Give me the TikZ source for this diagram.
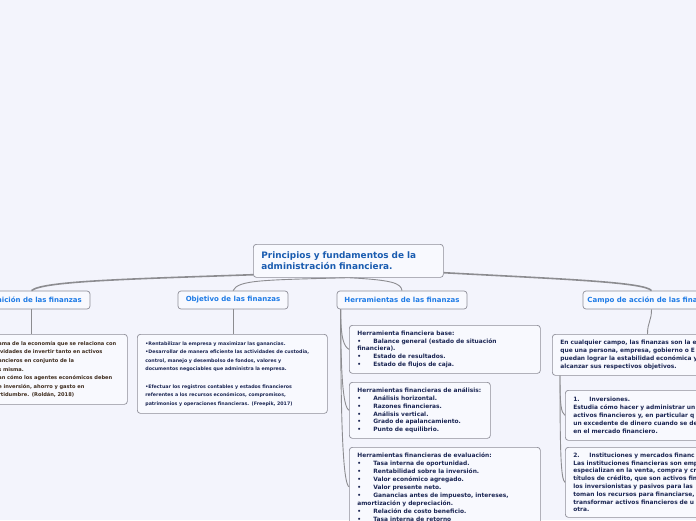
\documentclass[tikz,border=0pt]{standalone}
\usepackage{fontspec}
\setmainfont{DejaVu Sans}
\usetikzlibrary{calc}

\definecolor{canvasbg}{HTML}{F3F4FC}
\definecolor{boxfill}{HTML}{F8F9FE}
\definecolor{boxline}{HTML}{8E8E98}
\definecolor{linkgray}{HTML}{8C8C90}
\definecolor{mainblue}{HTML}{1A5CB0}
\definecolor{headblue}{HTML}{1E7BE6}
\definecolor{notenavy}{HTML}{1C2754}
\definecolor{notebrown}{HTML}{3E2C1E}

\newcommand{\blt}{\makebox[16pt][l]{•}}
\newcommand{\enumlbl}[1]{\makebox[16pt][l]{#1}}

\begin{document}
\begin{tikzpicture}[x=1pt, y=-1pt,
    topic/.style={draw=boxline, fill=boxfill, rounded corners=3pt, line width=0.7pt},
    mainbox/.style={topic, anchor=north west, minimum width=190pt, minimum height=33pt,
        inner xsep=8pt, text width=174pt, align=left, text=mainblue,
        font=\fontsize{8.9}{11}\selectfont\bfseries},
    headbox/.style={topic, minimum height=18pt, inner xsep=0pt, text=headblue,
        font=\fontsize{7}{8}\selectfont\bfseries},
    notebox/.style={topic, anchor=north west, inner xsep=8pt, inner ysep=4pt, align=left,
        text=notenavy, font=\fontsize{5.9}{7.8}\selectfont\bfseries},
    smallnote/.style={notebox, font=\fontsize{4.75}{8.6}\selectfont\bfseries},
    link/.style={draw=linkgray, line width=0.9pt},
    trunk/.style={draw=linkgray, line width=1.6pt}]

% --- 1. CANVAS ---
\useasboundingbox (0,0) rectangle (696,520);
\clip (0,0) rectangle (696,520);
\fill[canvasbg] (0,0) rectangle (696,520);

% --- 2. CENTRAL TOPIC ---
\node[mainbox] (main) at (253,244)
    {Principios y fundamentos de la\\administración financiera.};

% --- 3. MAIN BRANCHES ---
\node[headbox, minimum width=117pt] (defin) at (31.5,300) {Definición de las finanzas};
\node[headbox, minimum width=110pt] (obj) at (233,300) {Objetivo de las finanzas};
\node[headbox, minimum width=130pt] (herr) at (402,300) {Herramientas de las finanzas};
\node[headbox, minimum width=137pt] (campo) at (651.5,300) {Campo de acción de las finanzas};

% --- 4. NOTES ---
% Definicion
\node[smallnote, text=notebrown, text width=121pt, minimum height=70pt,
      font=\fontsize{5.1}{8.65}\selectfont\bfseries] (defitxt) at (-10,334)
    {ama de la economía que se relaciona con\\
     ividades de invertir tanto en activos\\
     ancieros en conjunto de la\\
     s misma.\\
     an cómo los agentes económicos deben\\
     e inversión, ahorro y gasto en\\
     rtidumbre. (Roldán, 2018)};

% Objetivo
\node[smallnote, text width=174pt, minimum height=79pt] (objtxt) at (137,334)
    {•Rentabilizar la empresa y maximizar las ganancias.\\
     •Desarrollar de manera eficiente las actividades de custodia,\\
     control, manejo y desembolso de fondos, valores y\\
     documentos negociables que administra la empresa.\\[8.6pt]
     •Efectuar los registros contables y estados financieros\\
     referentes a los recursos económicos, compromisos,\\
     patrimonios y operaciones financieras. (Freepik, 2017)};

% Herramientas
\node[notebox, text width=175pt, minimum height=48pt] (hbase) at (349,325)
    {Herramienta financiera base:\\
     \blt Balance general (estado de situación\\
     financiera).\\
     \blt Estado de resultados.\\
     \blt Estado de flujos de caja.};
\node[notebox, text width=125pt, minimum height=56pt] (hanal) at (349,382)
    {Herramientas financieras de análisis:\\
     \blt Análisis horizontal.\\
     \blt Razones financieras.\\
     \blt Análisis vertical.\\
     \blt Grado de apalancamiento.\\
     \blt Punto de equilibrio.};
\node[notebox, text width=175pt, inner ysep=5pt,
      font=\fontsize{5.9}{8}\selectfont\bfseries] (heval) at (349,447)
    {Herramientas financieras de evaluación:\\
     \blt Tasa interna de oportunidad.\\
     \blt Rentabilidad sobre la inversión.\\
     \blt Valor económico agregado.\\
     \blt Valor presente neto.\\
     \blt Ganancias antes de impuesto, intereses,\\
     amortización y depreciación.\\
     \blt Relación de costo beneficio.\\
     \blt Tasa interna de retorno};

% Campo de accion
\node[notebox, text width=170pt, minimum height=41pt] (camptxt) at (552,334)
    {En cualquier campo, las finanzas son la e\\
     que una persona, empresa, gobierno o E\\
     puedan lograr la estabilidad económica y\\
     alcanzar sus respectivos objetivos.};
\node[notebox, text width=160pt, minimum height=50pt] (inv) at (565,390)
    {\enumlbl{1.}Inversiones.\\
     Estudia cómo hacer y administrar un\\
     activos financieros y, en particular q\\
     un excedente de dinero cuando se de\\
     en el mercado financiero.};
\node[notebox, text width=160pt, minimum height=70pt] (inst) at (565,447)
    {\enumlbl{2.}Instituciones y mercados financ\\
     Las instituciones financieras son emp\\
     especializan en la venta, compra y cr\\
     títulos de crédito, que son activos fin\\
     los inversionistas y pasivos para las\\
     toman los recursos para financiarse,\\
     transformar activos financieros de u\\
     otra.};

% --- 5. CONNECTORS ---
\draw[trunk] ([yshift=3pt]main.south west) .. controls (130,279) and (42,281) .. (defin.north);
\draw[link] (main.south) .. controls (262,280) and (238,280) .. (obj.north);
\draw[link] (main.south) .. controls (392,280) and (401,283) .. (herr.north);
\draw[trunk] ([yshift=5pt]main.south east) .. controls (560,279) and (645,282) .. (campo.north);

\draw[link] (defin.south) -- (defin.south |- defitxt.north);
\draw[link] (obj.south) -- (obj.south |- objtxt.north);
\draw[link] (campo.south) .. controls +(0,12) and +(0,-12) .. ($(campo.south |- camptxt.north)+(-4,0)$);

\coordinate (hstem) at ([xshift=4pt]herr.south west);
\foreach \k in {hbase,hanal,heval}
    \draw[link] (hstem) .. controls ($(hstem)!0.75!(hstem |- \k.west)$)
        and ($(\k.west)+(-5,-3)$) .. (\k.west);

\coordinate (cstem) at ([xshift=8pt]camptxt.south west);
\foreach \k in {inv,inst}
    \draw[link] (cstem) .. controls ($(cstem)!0.75!(cstem |- \k.west)$)
        and ($(\k.west)+(-4,-3)$) .. (\k.west);

\end{tikzpicture}
\end{document}
